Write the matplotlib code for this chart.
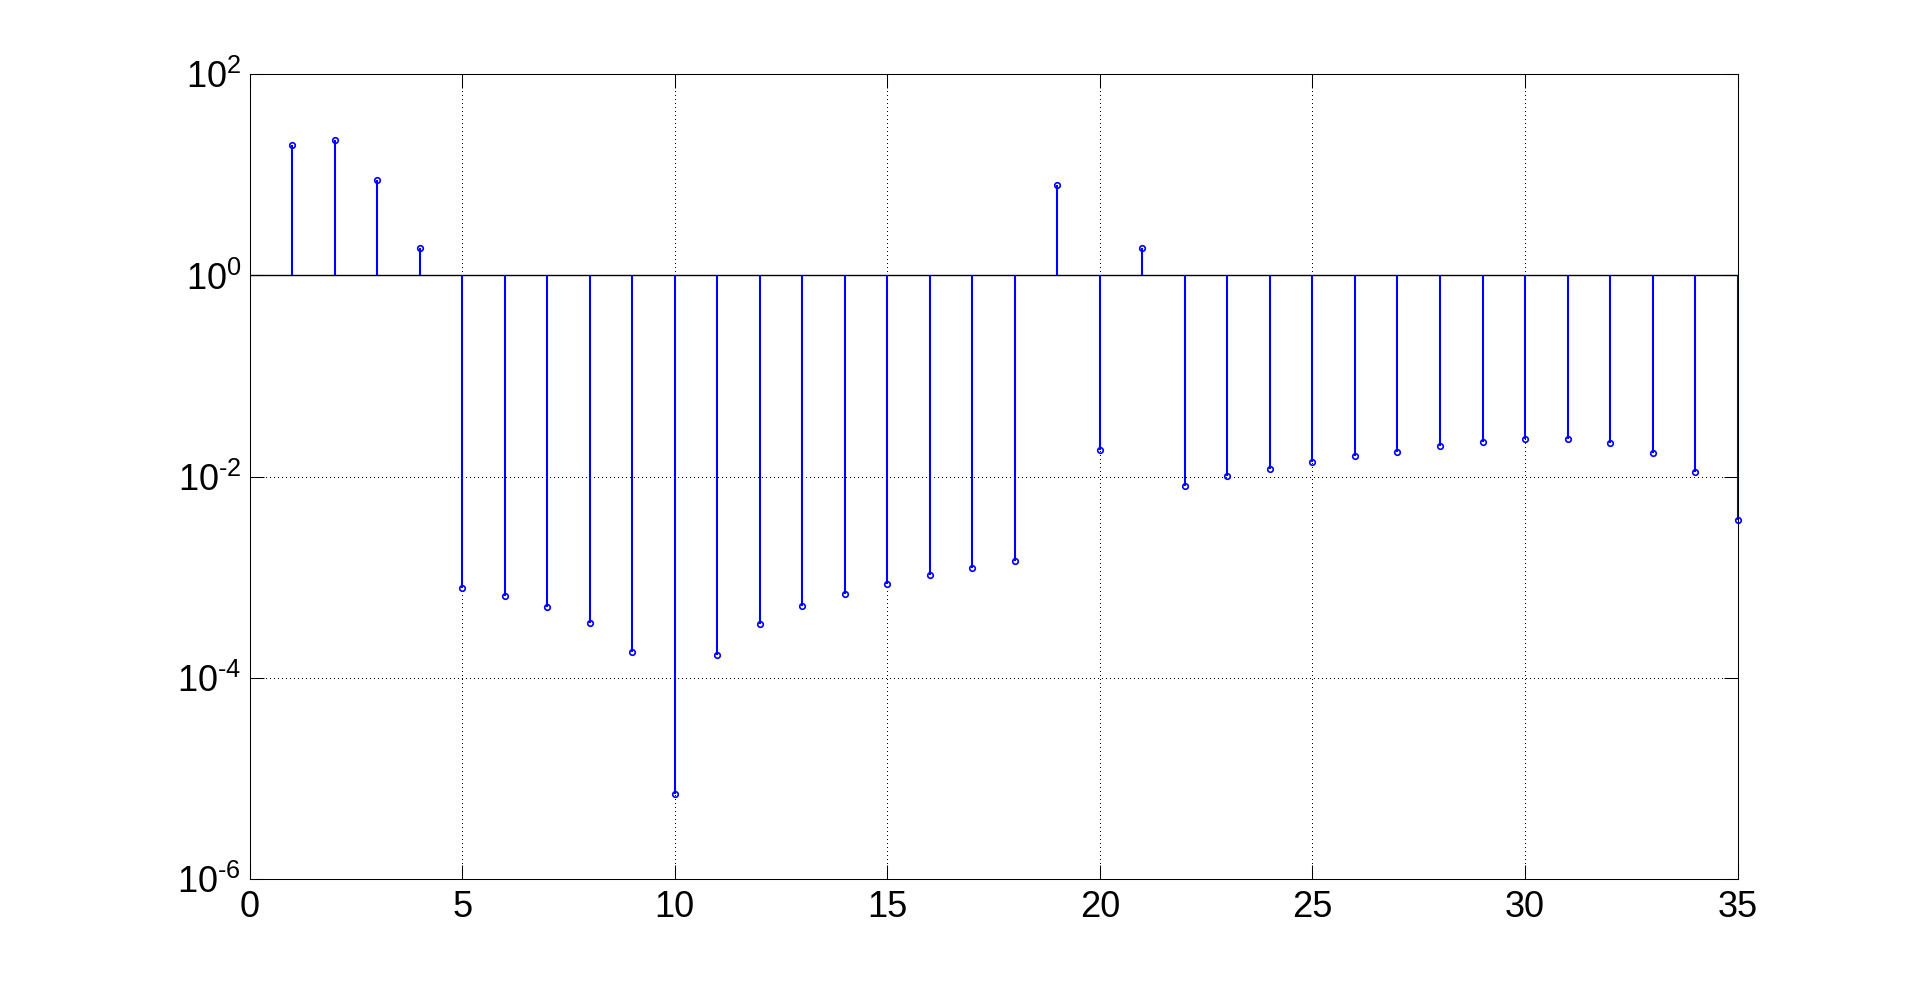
import numpy as np
import matplotlib
matplotlib.use("Agg")
import matplotlib.pyplot as plt

plt.rcParams["font.family"] = ["Liberation Sans", "DejaVu Sans"]
plt.rcParams["axes.unicode_minus"] = False
plt.rcParams["mathtext.fontset"] = "custom"
plt.rcParams["mathtext.rm"] = "Liberation Sans"

# stem values (index 1..35)
n = list(range(1, 36))
values = [
    19.7, 22.1, 8.84, 1.86,
    7.78e-4, 6.56e-4, 5.1e-4, 3.54e-4, 1.82e-4, 6.97e-6,
    1.71e-4, 3.46e-4, 5.22e-4, 6.87e-4, 8.64e-4, 1.06e-3,
    1.25e-3, 1.44e-3, 7.88, 1.83e-2, 1.86, 8.14e-3,
    1.01e-2, 1.18e-2, 1.39e-2, 1.59e-2, 1.77e-2, 2.00e-2,
    2.20e-2, 2.35e-2, 2.35e-2, 2.15e-2, 1.71e-2, 1.11e-2, 3.69e-3,
]
xticks = [0, 5, 10, 15, 20, 25, 30, 35]
yticks = [1e-6, 1e-4, 1e-2, 1e0, 1e2]

fig = plt.figure(figsize=(19.2, 9.88), dpi=100)
ax = fig.add_axes([0.13, 0.11, 0.775, 0.815])

ax.set_yscale("log")
ax.vlines(n, 1, values, colors="blue", linewidth=1.5, zorder=3)
ax.plot(n, values, "o", color="blue", markerfacecolor="none",
        markersize=4, markeredgewidth=1.2, zorder=4, clip_on=False)
ax.axhline(1, color="black", linewidth=1.0, zorder=2)

ax.set_xlim(0, 35)
ax.set_ylim(1e-6, 1e2)
ax.set_xticks(xticks)
ax.set_yticks(yticks)


def exp_label(t):
    e = int(round(np.log10(t)))
    if e < 0:
        return r"$\mathdefault{10^{\text{-}%d}}$" % (-e)
    return r"$\mathdefault{10^{%d}}$" % e


ax.set_yticklabels([exp_label(t) for t in yticks])
ax.minorticks_off()

ax.grid(True, which="major", color="black", linestyle=(0, (1, 3)),
        linewidth=0.72, antialiased=False)
ax.tick_params(direction="in", length=10, width=0.75, labelsize=26,
               top=True, right=True, pad=8)
ax.tick_params(axis="y", pad=6)
for s in ax.spines.values():
    s.set_linewidth(0.75)

fig.savefig("out.png", dpi=100)
